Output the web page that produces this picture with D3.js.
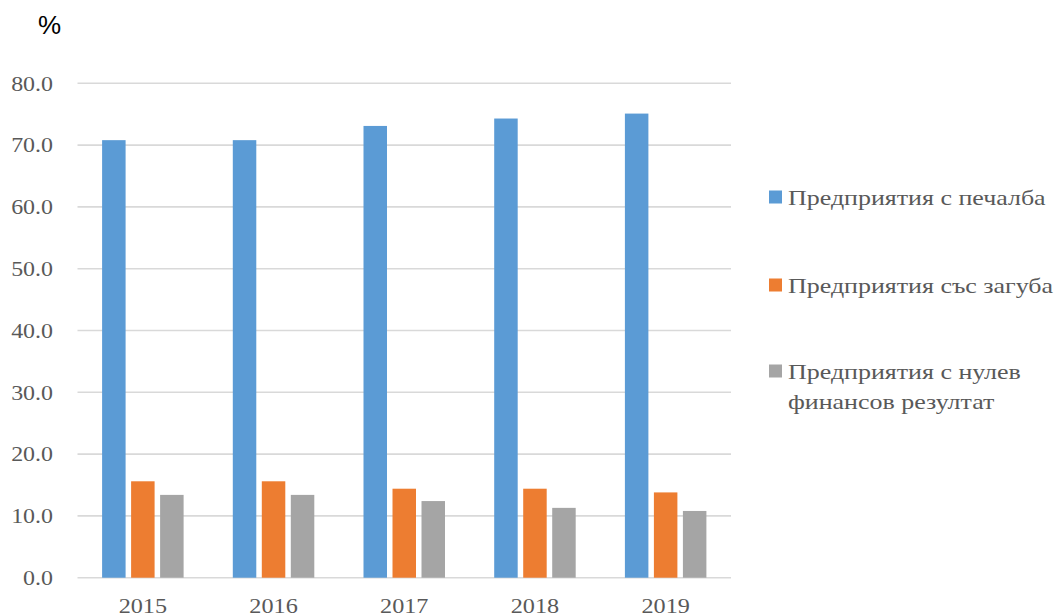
<!DOCTYPE html>
<html>
<head>
<meta charset="utf-8">
<script src="https://cdn.jsdelivr.net/npm/d3@7"></script>
<style>
  body { margin: 0; background: #fff; }
  svg { display: block; }
</style>
</head>
<body>
<div id="chart"></div>
<script>
// === data ===
var years = ["2015", "2016", "2017", "2018", "2019"];
var seriesNames = ["Предприятия с печалба", "Предприятия със загуба", "Предприятия с нулев финансов резултат"];
var profit = [70.8, 70.8, 73.1, 74.3, 75.1];
var loss = [15.6, 15.6, 14.4, 14.4, 13.8];
var zero = [13.4, 13.4, 12.4, 11.3, 10.8];
var yTicks = [0, 10, 20, 30, 40, 50, 60, 70, 80];
var colors = ["#5b9bd5", "#ed7d31", "#a5a5a5"];

var width = 1057, height = 616;
var svg = d3.select("#chart").append("svg")
    .attr("width", width)
    .attr("height", height);

var plotLeft = 77.5, plotRight = 731, plotTop = 83.3, plotBottom = 577.7;
var serif = "'Liberation Serif', 'Times New Roman', serif";
var stretch = 1.14;   // the source text is a bit wider than Times

var y = d3.scaleLinear().domain([0, 80]).range([plotBottom, plotTop]);
var x0 = d3.scaleBand().domain(years).range([plotLeft, plotRight]).padding(0);
var groupW = 81.5;
var x1 = d3.scaleBand().domain([0, 1, 2]).range([0, groupW]).paddingInner(0.19).paddingOuter(0);

// gridlines
svg.append("g").selectAll("line")
    .data(yTicks)
    .enter().append("line")
    .attr("x1", plotLeft).attr("x2", plotRight)
    .attr("y1", function (d) { return y(d); })
    .attr("y2", function (d) { return y(d); })
    .style("stroke", "#d9d9d9")
    .style("stroke-width", 1.6);

// y labels
svg.append("g").selectAll("text")
    .data(yTicks)
    .enter().append("text")
    .attr("transform", function (d) { return "translate(53," + y(d) + ") scale(" + stretch + ",1)"; })
    .attr("dy", "0.35em")
    .attr("text-anchor", "end")
    .style("font-family", serif)
    .style("font-size", "21px")
    .style("fill", "#595959")
    .text(function (d) { return d.toFixed(1); });

// bars
var table = years.map(function (yr, i) {
    return { year: yr, values: [profit[i], loss[i], zero[i]] };
});
var groups = svg.append("g").selectAll("g")
    .data(table)
    .enter().append("g")
    .attr("transform", function (d) {
        return "translate(" + (x0(d.year) + (x0.bandwidth() - groupW) / 2) + ",0)";
    });
groups.selectAll("rect")
    .data(function (d) { return d.values; })
    .enter().append("rect")
    .attr("x", function (d, i) { return x1(i); })
    .attr("width", x1.bandwidth())
    .attr("y", function (d) { return y(d); })
    .attr("height", function (d) { return y(0) - y(d); })
    .style("fill", function (d, i) { return colors[i]; });

// x labels (cut at the bottom edge, like the source)
svg.append("g").selectAll("text")
    .data(years)
    .enter().append("text")
    .attr("transform", function (d) {
        return "translate(" + (x0(d) + x0.bandwidth() / 2) + ",613) scale(1.1,1)";
    })
    .attr("text-anchor", "middle")
    .style("font-family", serif)
    .style("font-size", "22px")
    .style("fill", "#595959")
    .text(function (d) { return d; });

// % label
svg.append("text")
    .attr("x", 49.5).attr("y", 34)
    .attr("text-anchor", "middle")
    .style("font-family", "'Liberation Sans', Arial, sans-serif")
    .style("font-size", "26px")
    .style("fill", "#000")
    .text("%");

// legend
var legendRows = [
    { lines: [seriesNames[0]], y: 197 },
    { lines: [seriesNames[1]], y: 285 },
    { lines: ["Предприятия с нулев", "финансов резултат"], y: 371 }
];
var legend = svg.append("g").selectAll("g")
    .data(legendRows)
    .enter().append("g");
legend.append("rect")
    .attr("x", 769)
    .attr("y", function (d) { return d.y - 6.5; })
    .attr("width", 13).attr("height", 13)
    .style("fill", function (d, i) { return colors[i]; });
legend.each(function (d) {
    var t = d3.select(this).append("text")
        .attr("transform", "translate(788," + d.y + ") scale(1.18,1)")
        .style("font-family", serif)
        .style("font-size", "22px")
        .style("fill", "#595959");
    d.lines.forEach(function (ln, k) {
        t.append("tspan").attr("x", 0).attr("dy", k == 0 ? "0.35em" : 30).text(ln);
    });
});
</script>
</body>
</html>
